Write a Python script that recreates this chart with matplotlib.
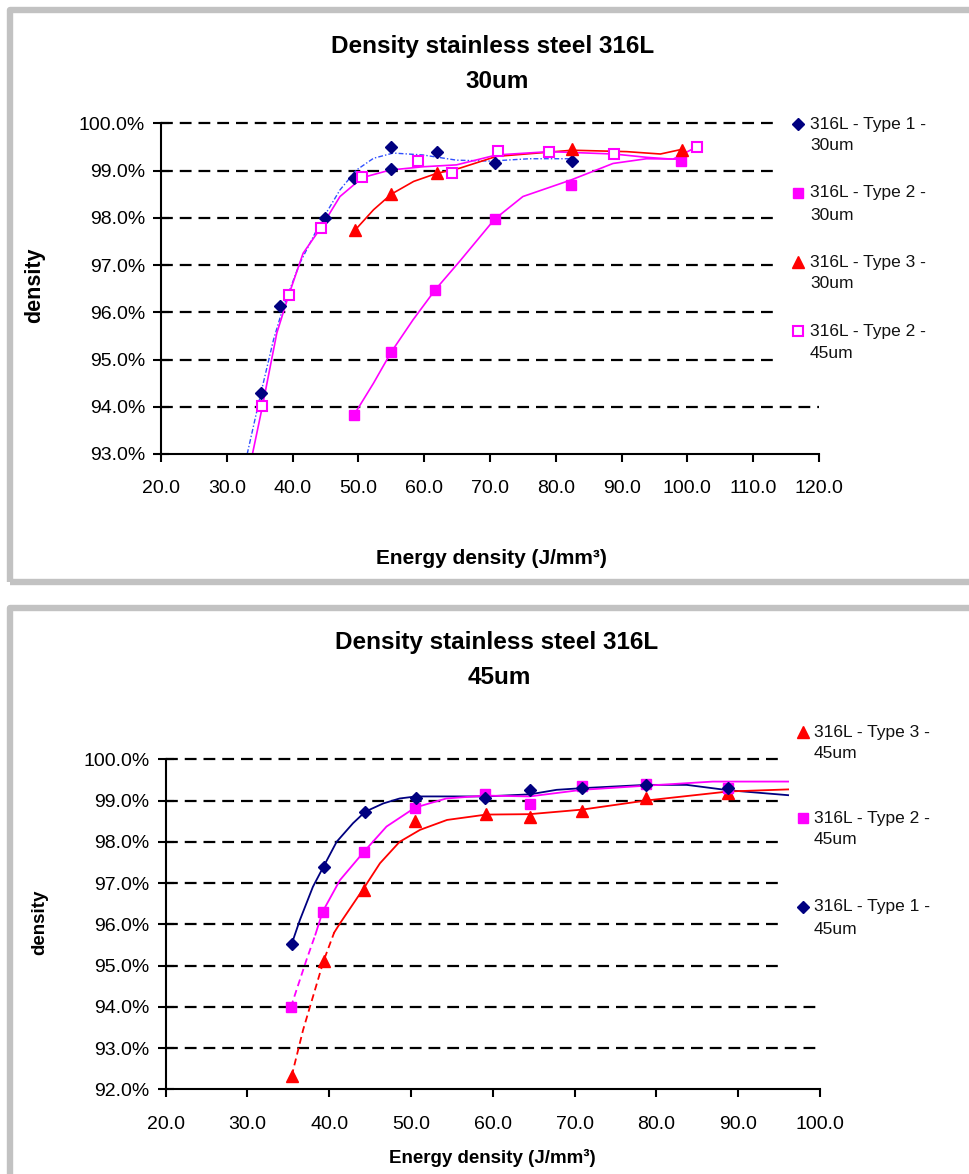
import matplotlib
matplotlib.use('Agg')
import matplotlib.pyplot as plt
from matplotlib.lines import Line2D
from matplotlib.patches import Rectangle
from matplotlib.ticker import FuncFormatter, MultipleLocator

plt.rcParams['font.family'] = ['Liberation Sans', 'DejaVu Sans']
plt.rcParams['lines.scale_dashes'] = False

# ---------------- data: top chart (30um) ----------------
t1_30_x = [35.2, 38.1, 44.9, 49.4, 55.0, 55.0, 61.9, 70.8, 82.5]
t1_30_y = [94.3, 96.14, 97.99, 98.85, 99.5, 99.03, 99.4, 99.15, 99.2]
t2_30_x = [49.3, 55.0, 61.7, 70.7, 82.3, 99.1]
t2_30_y = [93.82, 95.16, 96.48, 97.97, 98.69, 99.2]
t3_30_x = [49.5, 55.0, 61.9, 82.5, 99.2]
t3_30_y = [97.74, 98.5, 98.94, 99.45, 99.44]
t2_45o_x = [35.4, 39.4, 44.3, 50.6, 59.0, 64.3, 71.2, 79.0, 88.8, 101.4]
t2_45o_y = [94.02, 96.36, 97.79, 98.87, 99.2, 98.94, 99.41, 99.4, 99.35, 99.5]

# trend curves
fit_t1_30_x = [33.1, 35.2, 37.1, 38.6, 41.1, 44.2, 47.2, 49.7, 52.3, 55.3, 59.8, 64.9, 70.0, 76.0, 82.5]
fit_t1_30_y = [93.0, 94.3, 95.42, 96.12, 97.04, 97.89, 98.59, 99.01, 99.26, 99.37, 99.33, 99.22, 99.2, 99.25, 99.25]
fit_t2_45o_x = [33.9, 35.4, 37.6, 39.4, 41.6, 44.3, 47.2, 50.6, 54.8, 59.8, 64.9, 71.0, 79.0, 88.8, 93.8, 97.8, 101.4]
fit_t2_45o_y = [93.0, 94.0, 95.56, 96.36, 97.25, 97.79, 98.45, 98.85, 99.01, 99.08, 99.12, 99.33, 99.4, 99.35, 99.28, 99.24, 99.5]
fit_t3_30_x = [49.5, 52.3, 55.0, 58.4, 61.9, 65.4, 71.0, 82.5, 90.8, 95.9, 99.2]
fit_t3_30_y = [97.74, 98.17, 98.5, 98.77, 98.94, 99.05, 99.3, 99.43, 99.4, 99.35, 99.45]
fit_t2_30_x = [49.3, 52.3, 55.0, 58.3, 61.7, 65.4, 70.7, 75.0, 82.3, 88.7, 93.8, 99.1]
fit_t2_30_y = [93.82, 94.5, 95.16, 95.84, 96.48, 97.08, 97.97, 98.45, 98.8, 99.15, 99.25, 99.24]

top_labels = ["316L - Type 1 -\n30um", "316L - Type 2 -\n30um",
              "316L - Type 3 -\n30um", "316L - Type 2 -\n45um"]

# ---------------- data: bottom chart (45um) ----------------
b_t3_x = [35.4, 39.3, 44.3, 50.5, 59.2, 64.5, 70.9, 78.7, 88.8]
b_t3_y = [92.32, 95.11, 96.83, 98.51, 98.67, 98.61, 98.75, 99.05, 99.18]
b_t2_x = [35.3, 39.2, 44.2, 50.5, 59.0, 64.5, 70.9, 78.7, 88.8]
b_t2_y = [93.99, 96.31, 97.75, 98.83, 99.16, 98.92, 99.36, 99.39, 99.3]
b_t1_x = [35.4, 39.3, 44.4, 50.6, 59.0, 64.5, 70.9, 78.7, 88.8]
b_t1_y = [95.52, 97.40, 98.73, 99.07, 99.05, 99.26, 99.3, 99.38, 99.31]

fb_t1_x = [35.4, 36.4, 38.0, 39.3, 40.9, 42.9, 44.4, 46.6, 48.6, 50.6, 59.0, 64.5, 67.8, 70.9, 78.7, 83.7, 88.8, 96.1]
fb_t1_y = [95.52, 96.1, 96.91, 97.4, 98.0, 98.45, 98.73, 98.93, 99.05, 99.1, 99.1, 99.15, 99.26, 99.3, 99.38, 99.38, 99.25, 99.13]
fb_t2_x = [35.3, 37.2, 38.3, 39.2, 41.3, 44.2, 47.0, 50.5, 54.3, 59.0, 64.5, 70.9, 78.7, 86.9, 96.1]
fb_t2_y = [93.99, 95.13, 95.75, 96.31, 97.07, 97.75, 98.37, 98.83, 99.05, 99.12, 99.1, 99.26, 99.36, 99.46, 99.46]
fb_t3_x = [35.4, 36.8, 39.3, 40.6, 41.3, 44.3, 46.2, 48.6, 51.1, 54.4, 59.2, 64.5, 70.9, 78.7, 88.8, 96.1]
fb_t3_y = [92.32, 93.44, 95.11, 95.8, 96.02, 96.9, 97.48, 98.0, 98.29, 98.53, 98.66, 98.67, 98.78, 99.0, 99.22, 99.27]

bottom_labels = ["316L - Type 3 -\n45um", "316L - Type 2 -\n45um", "316L - Type 1 -\n45um"]

title_main = "Density stainless steel 316L"
top_sub = "30um"
bottom_sub = "45um"
xlabel = "Energy density (J/mm\u00b3)"
ylabel = "density"

# ---------------- figure ----------------
W, H = 970, 1174
fig = plt.figure(figsize=(W / 100, H / 100), dpi=100)


def fx(x):
    return x / W


def fy(y):
    return 1 - y / H


NAVY = '#000080'
MAG = '#ff00ff'
RED = '#ff0000'
BORDER = '#c2c2c2'

# panel borders
fig.add_artist(Rectangle((fx(10), fy(581.5)), fx(1010) - fx(10), (581.5 - 9.5) / H,
                         transform=fig.transFigure, fill=False, ec=BORDER, lw=4.6,
                         joinstyle='round'))
fig.add_artist(Rectangle((fx(10), fy(1220)), fx(1010) - fx(10), (1220 - 607.5) / H,
                         transform=fig.transFigure, fill=False, ec=BORDER, lw=4.6,
                         joinstyle='round'))


def setup(ax, xlim, ylim, grid_levels, full_levels, grid_end):
    ax.set_xlim(*xlim)
    ax.set_ylim(*ylim)
    for s in ('top', 'right'):
        ax.spines[s].set_visible(False)
    for s in ('left', 'bottom'):
        ax.spines[s].set_linewidth(1.5)
        ax.spines[s].set_color('black')
    ax.xaxis.set_major_locator(MultipleLocator(10))
    ax.yaxis.set_major_locator(MultipleLocator(1))
    ax.xaxis.set_major_formatter(FuncFormatter(lambda v, p: f"{v:.1f}"))
    ax.yaxis.set_major_formatter(FuncFormatter(lambda v, p: f"{v:.1f}%"))
    ax.tick_params(axis='y', direction='inout', length=11, width=1.5, pad=6,
                   labelsize=14, colors='black')
    ax.tick_params(axis='x', direction='out', length=6, width=1.5, pad=13,
                   labelsize=14, colors='black')
    for lev in grid_levels:
        end = xlim[1] if lev in full_levels else grid_end
        ax.hlines(lev, xlim[0], end, colors='black', linewidth=1.6,
                  linestyles=[(0, (8.5, 5.0))], zorder=1, clip_on=False)
    ax.set_facecolor('none')


def legend_entry(xm, xt, y, label, **mkw):
    fig.add_artist(Line2D([fx(xm)], [fy(y)], transform=fig.transFigure,
                          linestyle='none', **mkw))
    for i, s in enumerate(label.split('\n')):
        fig.text(fx(xt), fy(y + 22 * i), s, fontsize=12.5, ha='left', va='center',
                 color='#111111')


# ---------------- top chart ----------------
ax1 = fig.add_axes([fx(161), fy(454), (819 - 161) / W, (454 - 123.3) / H])
setup(ax1, (20, 120), (93, 100), [94, 95, 96, 97, 98, 99, 100], [94], 113.6)

ax1.plot(fit_t1_30_x, fit_t1_30_y, color='#3050ff', lw=1.0,
         ls=(0, (3.5, 1.5, 1.0, 1.5)), zorder=2)
ax1.plot(fit_t2_30_x, fit_t2_30_y, color=MAG, lw=1.2, zorder=2)
ax1.plot(fit_t3_30_x, fit_t3_30_y, color=RED, lw=1.2, zorder=2)
ax1.plot(fit_t2_45o_x, fit_t2_45o_y, color=MAG, lw=1.2, zorder=2)

mk_t1 = dict(marker='D', ms=5.8, color=NAVY, mec=NAVY)
mk_t2 = dict(marker='s', ms=7, color=MAG, mec=MAG)
mk_t3 = dict(marker='^', ms=8, color=RED, mec=RED)
mk_t2o = dict(marker='s', ms=7, mfc='white', mec=MAG, mew=1.5)

ax1.plot(t1_30_x, t1_30_y, ls='none', zorder=3, **mk_t1)
ax1.plot(t2_30_x, t2_30_y, ls='none', zorder=3, **mk_t2)
ax1.plot(t3_30_x, t3_30_y, ls='none', zorder=3, **mk_t3)
ax1.plot(t2_45o_x, t2_45o_y, ls='none', zorder=3, **mk_t2o)

fig.text(fx(492.5), fy(47), title_main, ha='center', va='center', fontsize=17.5,
         weight='bold')
fig.text(fx(497), fy(82), top_sub, ha='center', va='center', fontsize=17.5,
         weight='bold')
fig.text(fx(491), fy(559), xlabel, ha='center', va='center', fontsize=15, weight='bold')
fig.text(fx(35), fy(285), ylabel, ha='center', va='center', fontsize=15.5,
         weight='bold', rotation=90)

for lab, yy, mk in zip(top_labels, [124, 193, 262, 331], [mk_t1, mk_t2, mk_t3, mk_t2o]):
    legend_entry(798, 810, yy, lab, **mk)

# ---------------- bottom chart ----------------
ax2 = fig.add_axes([fx(165.7), fy(1089.3), (820 - 165.7) / W, (1089.3 - 759.3) / H])
setup(ax2, (20, 100), (92, 100), [93, 94, 95, 96, 97, 98, 99, 100], [93, 94], 95.3)

# navy (Type 1) solid
ax2.plot(fb_t1_x, fb_t1_y, color=NAVY, lw=1.3, zorder=2)
# magenta (Type 2): dashed start, then solid
cut2 = 38.3
ax2.plot([x for x in fb_t2_x if x <= cut2], [y for x, y in zip(fb_t2_x, fb_t2_y) if x <= cut2],
         color=MAG, lw=1.3, ls=(0, (5, 3)), zorder=2)
ax2.plot([x for x in fb_t2_x if x >= cut2], [y for x, y in zip(fb_t2_x, fb_t2_y) if x >= cut2],
         color=MAG, lw=1.3, zorder=2)
# red (Type 3): dashed start, then solid
cut3 = 40.6
ax2.plot([x for x in fb_t3_x if x <= cut3], [y for x, y in zip(fb_t3_x, fb_t3_y) if x <= cut3],
         color=RED, lw=1.3, ls=(0, (5, 3)), zorder=2)
ax2.plot([x for x in fb_t3_x if x >= cut3], [y for x, y in zip(fb_t3_x, fb_t3_y) if x >= cut3],
         color=RED, lw=1.3, zorder=2)

ax2.plot(b_t3_x, b_t3_y, ls='none', zorder=3, **mk_t3)
ax2.plot(b_t2_x, b_t2_y, ls='none', zorder=3, **mk_t2)
ax2.plot(b_t1_x, b_t1_y, ls='none', zorder=4, **mk_t1)

fig.text(fx(497), fy(643), title_main, ha='center', va='center', fontsize=17.5,
         weight='bold')
fig.text(fx(499), fy(678), bottom_sub, ha='center', va='center', fontsize=17.5,
         weight='bold')
fig.text(fx(492), fy(1158), xlabel, ha='center', va='center', fontsize=13.5, weight='bold')
fig.text(fx(40), fy(922), ylabel, ha='center', va='center', fontsize=13.5,
         weight='bold', rotation=90)

for lab, yy, mk in zip(bottom_labels, [732, 818, 907], [mk_t3, mk_t2, mk_t1]):
    legend_entry(803, 814, yy, lab, **mk)

fig.savefig('out.png', dpi=100, facecolor='white')
